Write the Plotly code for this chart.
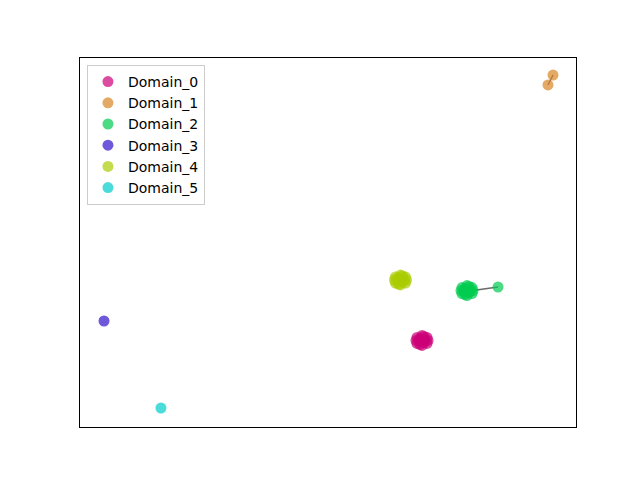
import plotly.graph_objects as go

domains = ["Domain_0", "Domain_1", "Domain_2", "Domain_3", "Domain_4", "Domain_5"]
colors = ["#cc0077", "#d98424", "#00cc50", "#3311cc", "#aacc00", "#00cccc"]

d0_x = [15.16, 14.35, 15.97, 14.35, 15.97, 15.16, 15.16, 14.68, 15.64, 14.84, 15.48, 14.19, 16.13, 15.48, 14.84]
d0_y = [-21.24, -20.59, -20.59, -21.89, -21.89, -20.16, -22.32, -21.24, -21.24, -20.81, -21.67, -21.24, -21.24, -20.37, -22.11]

d1_x = [36.29, 35.48]
d1_y = [36.31, 34.15]

d2_x = [22.42, 21.61, 23.23, 21.61, 23.23, 22.42, 22.42, 21.94, 22.90, 22.10, 22.74, 21.45, 22.74, 22.10, 23.39, 27.42]
d2_y = [-10.41, -9.76, -9.76, -11.06, -11.06, -9.33, -11.49, -10.41, -10.41, -9.98, -10.84, -10.41, -9.54, -11.28, -10.41, -9.65]

d3_x = [-36.13]
d3_y = [-17.02]

d4_x = [11.69, 10.88, 12.50, 10.88, 12.50, 11.69, 11.69, 11.21, 12.17, 11.37, 12.01, 10.72, 12.66, 12.01, 11.37]
d4_y = [-8.13, -7.48, -7.48, -8.78, -8.78, -7.05, -9.21, -8.13, -8.13, -7.70, -8.56, -8.13, -8.13, -7.26, -9.00]

d5_x = [-26.94]
d5_y = [-35.88]

xs = [d0_x, d1_x, d2_x, d3_x, d4_x, d5_x]
ys = [d0_y, d1_y, d2_y, d3_y, d4_y, d5_y]

fig = go.Figure()

# connecting lines (drawn beneath markers)
for x, y in zip(xs, ys):
    if len(x) > 1:
        fig.add_trace(go.Scatter(x=x, y=y, mode="lines",
                                 line=dict(color="rgba(90,90,90,0.9)", width=1.5),
                                 showlegend=False, hoverinfo="skip"))

for name, c, x, y in zip(domains, colors, xs, ys):
    fig.add_trace(go.Scatter(x=x, y=y, mode="markers", name=name,
                             marker=dict(color=c, size=11, opacity=0.7,
                                         line=dict(width=0))))

axis_common = dict(showgrid=False, zeroline=False, showticklabels=False,
                   ticks="", showline=True, mirror=True, linecolor="black",
                   linewidth=1)

fig.update_layout(
    width=640, height=480,
    margin=dict(l=72, r=72, t=50, b=61),
    plot_bgcolor="white", paper_bgcolor="white",
    font=dict(family="DejaVu Sans", size=14, color="black"),
    xaxis=dict(range=[-40, 40], **axis_common),
    yaxis=dict(range=[-40, 40], **axis_common),
    legend=dict(x=0.014, y=0.981, xanchor="left", yanchor="top",
                bordercolor="#cccccc", borderwidth=1, bgcolor="white",
                font=dict(size=14)),
    showlegend=True,
)

fig.write_html("out.html")
